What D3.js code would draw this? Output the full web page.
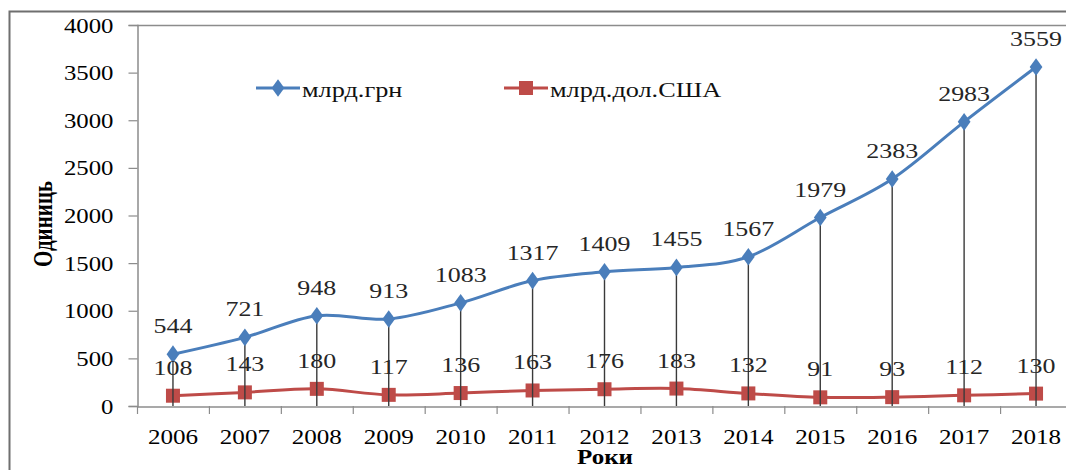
<!DOCTYPE html>
<html>
<head>
<meta charset="utf-8">
<script src="https://cdn.jsdelivr.net/npm/d3@7"></script>
<style>
  html, body { margin: 0; padding: 0; background: #fff; }
  svg { display: block; }
  text { font-family: "Liberation Serif", "Times New Roman", serif; }
</style>
</head>
<body>
<div id="chart"></div>
<script>
const years = ["2006","2007","2008","2009","2010","2011","2012","2013","2014","2015","2016","2017","2018"];
const uah = [544, 721, 948, 913, 1083, 1317, 1409, 1455, 1567, 1979, 2383, 2983, 3559];
const usd = [108, 143, 180, 117, 136, 163, 176, 183, 132, 91, 93, 112, 130];
const yTicks = [0, 500, 1000, 1500, 2000, 2500, 3000, 3500, 4000];
const seriesNames = ["млрд.грн", "млрд.дол.США"];
const yTitle = "Одиниць";
const xTitle = "Роки";

const W = 1066, H = 470;
const blue = "#4A7EBB", red = "#BE4B48";
const sx = 1.18; // horizontal text stretch seen in the picture

const svg = d3.select("#chart").append("svg").attr("width", W).attr("height", H);

// outer frame
svg.append("path").attr("d", `M9.5,${H} V11.5 H${W}`)
  .attr("fill", "none").attr("stroke", "#6f6f6f").attr("stroke-width", 2);

const x = d3.scaleBand().domain(years).range([137, 1072]).paddingInner(0).paddingOuter(0);
const y = d3.scaleLinear().domain([0, 4000]).range([406, 25]);
const cx = d => x(d) + x.bandwidth() / 2;

// plot top border
svg.append("line").attr("x1", 137).attr("x2", W).attr("y1", y(4000) + 0.5).attr("y2", y(4000) + 0.5)
  .attr("stroke", "#8c8c8c").attr("stroke-width", 1.5);

// Y axis
const yAxis = svg.append("g").attr("transform", "translate(137.5,0)")
  .call(d3.axisLeft(y).tickValues(yTicks).tickSize(9).tickPadding(0).tickFormat(d3.format("d")));
yAxis.select(".domain").attr("stroke", "#8c8c8c").attr("stroke-width", 1.5);
yAxis.selectAll(".tick line").attr("stroke", "#8c8c8c").attr("stroke-width", 1.2);
yAxis.selectAll(".tick text").each(function(d) {
  const t = d3.select(this);
  t.attr("x", null).attr("dy", null)
   .attr("transform", `translate(-24,${7}) scale(${sx},1)`)
   .attr("text-anchor", "end").attr("fill", "#000")
   .style("font-size", "21px").style("font-family", '"Liberation Serif", serif');
});

// X axis
const xAxis = svg.append("g").attr("transform", `translate(0,${y(0) + 0.5})`)
  .call(d3.axisBottom(x).tickSize(0).tickPadding(0));
xAxis.select(".domain").attr("stroke", "#8c8c8c").attr("stroke-width", 1.5);
xAxis.selectAll(".tick text").attr("y", null).attr("dy", null)
  .attr("transform", `translate(0,37) scale(1.14,1)`)
  .attr("fill", "#000").style("font-size", "22px").style("font-family", '"Liberation Serif", serif');
// category boundary ticks
const bounds = years.map(d => x(d)).concat([x(years[years.length - 1]) + x.bandwidth()]);
svg.append("g").selectAll("line").data(bounds).join("line")
  .attr("x1", d => d + 0.5).attr("x2", d => d + 0.5)
  .attr("y1", y(0)).attr("y2", y(0) + 8)
  .attr("stroke", "#8c8c8c").attr("stroke-width", 1.2);

const line = d3.line().x((d, i) => cx(years[i])).y(d => y(d)).curve(d3.curveCardinal.tension(0));

// red series
svg.append("path").datum(usd).attr("d", line).attr("fill", "none")
  .attr("stroke", red).attr("stroke-width", 3);
svg.append("g").selectAll("rect").data(usd).join("rect")
  .attr("x", (d, i) => cx(years[i]) - 7).attr("y", d => y(d) - 7)
  .attr("width", 14).attr("height", 14).attr("fill", red);

// drop lines
svg.append("g").selectAll("line").data(uah).join("line")
  .attr("x1", (d, i) => cx(years[i])).attr("x2", (d, i) => cx(years[i]))
  .attr("y1", d => y(d)).attr("y2", y(0))
  .attr("stroke", "#3a3a3a").attr("stroke-width", 1.4);

// blue series
svg.append("path").datum(uah).attr("d", line).attr("fill", "none")
  .attr("stroke", blue).attr("stroke-width", 3);
const diamond = d3.symbol().type(d3.symbolDiamond).size(90);
svg.append("g").selectAll("path").data(uah).join("path")
  .attr("d", diamond)
  .attr("transform", (d, i) => `translate(${cx(years[i])},${y(d)}) scale(1.25,1)`)
  .attr("fill", blue);

// data labels
function labels(data) {
  svg.append("g").selectAll("text").data(data).join("text")
    .attr("transform", (d, i) => `translate(${cx(years[i])},${y(d) - 21}) scale(${sx},1)`)
    .attr("text-anchor", "middle").attr("fill", "#262626")
    .style("font-size", "22px").text(d => d);
}
labels(uah);
labels(usd);

// legend
const legend = [
  {name: seriesNames[0], color: blue, x0: 256, marker: "diamond"},
  {name: seriesNames[1], color: red, x0: 504, marker: "square"}
];
const lg = svg.append("g");
legend.forEach(l => {
  const ly = 88;
  lg.append("line").attr("x1", l.x0).attr("x2", l.x0 + 44).attr("y1", ly).attr("y2", ly)
    .attr("stroke", l.color).attr("stroke-width", 3);
  if (l.marker === "diamond") {
    lg.append("path").attr("d", diamond).attr("transform", `translate(${l.x0 + 22},${ly}) scale(1.25,1)`).attr("fill", l.color);
  } else {
    lg.append("rect").attr("x", l.x0 + 15).attr("y", ly - 7).attr("width", 14).attr("height", 14).attr("fill", l.color);
  }
  lg.append("text").attr("transform", `translate(${l.x0 + 46},${ly + 9}) scale(1.25,1)`)
    .attr("fill", "#111").style("font-size", "21px").text(l.name);
});

// axis titles
svg.append("text").attr("transform", `translate(52,224) rotate(-90) scale(1,1.35)`)
  .attr("text-anchor", "middle").attr("font-weight", "bold").attr("fill", "#000")
  .style("font-size", "21px").text(yTitle);
svg.append("text").attr("transform", `translate(605,464) scale(1.25,1)`)
  .attr("text-anchor", "middle").attr("font-weight", "bold").attr("fill", "#000")
  .style("font-size", "20px").text(xTitle);
</script>
</body>
</html>
